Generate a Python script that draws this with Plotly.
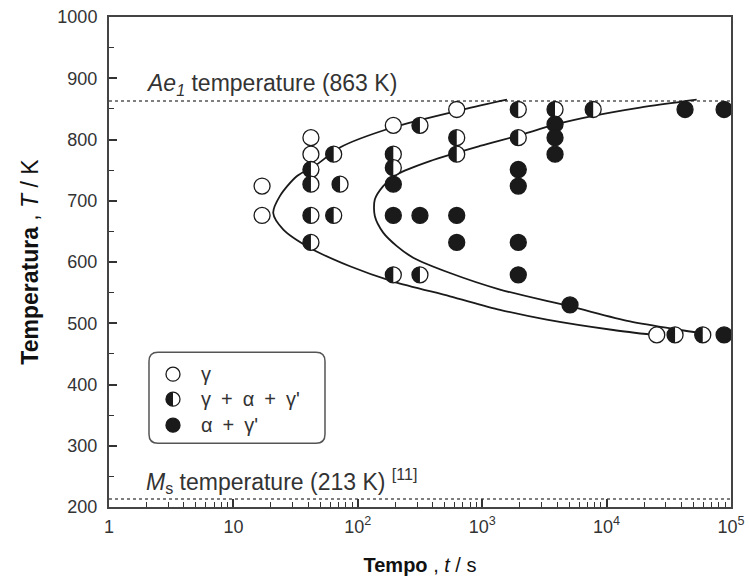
import plotly.graph_objects as go

# Isothermal holding results: time (s) and temperature (K) per observed phase state
gamma_t = [17, 17, 42, 42, 193, 624, 25300]
gamma_T = [724, 676, 803, 776, 823, 849, 481]

mixed_t = [42, 42, 42, 42, 64, 72, 64, 193, 193, 193, 316, 316, 624, 624,
           1950, 1950, 3850, 7800, 35500, 59300]
mixed_T = [751, 727, 676, 632, 776, 727, 676, 776, 754, 579, 823, 579, 803, 776,
           849, 803, 849, 849, 481, 481]

alpha_t = [193, 193, 316, 624, 624, 1950, 1950, 1950, 1950, 3850, 3850, 3850,
           5080, 42700, 88000, 88000]
alpha_T = [727, 676, 676, 676, 632, 751, 724, 632, 579, 825, 803, 776,
           530, 849, 849, 481]

# Transformation start / finish C-curves
start_t = [1581, 705, 193, 71.9, 46.7, 32.3, 23.7, 20.9, 25.2, 41.3, 86.5, 193,
           551, 1390, 3304, 11324, 23714]
start_T = [865, 849, 820, 787, 759, 740, 708, 680, 653, 623, 593, 568,
           544, 522, 506, 489, 481]
finish_t = [52970, 18535, 7816, 3972, 1892, 959, 380, 206, 160, 137, 137, 160,
            206, 279, 551, 1390, 5082, 15417, 38905, 56364]
finish_T = [865, 852, 838.5, 825, 805.7, 789.4, 764.8, 743, 724, 702, 675, 648,
            626, 607, 582, 555, 527.5, 503, 489, 484]

# Reference temperatures
AE1 = 863
MS = 213

x_tickvals = [1, 10, 100, 1000, 10000, 100000]
x_ticktext = ["1", "10", "10<sup>2</sup>", "10<sup>3</sup>", "10<sup>4</sup>", "10<sup>5</sup>"]

SP = "\u2002"
legend_labels = ["\u03b3",
                 f"\u03b3{SP}+{SP}\u03b1{SP}+{SP}\u03b3'",
                 f"\u03b1{SP}+{SP}\u03b3'"]

INK = "#1a1a1a"
FONT = "Arial, Liberation Sans, sans-serif"
MSIZE = 16
K = 0.5523


def circle_path(r):
    k = K * r
    return (f"M 0,{r} C {-k},{r} {-r},{k} {-r},0 C {-r},{-k} {-k},{-r} 0,{-r} "
            f"C {k},{-r} {r},{-k} {r},0 C {r},{k} {k},{r} 0,{r} Z")


def left_half_path(r):
    k = K * r
    return f"M 0,{r} C {-k},{r} {-r},{k} {-r},0 C {-r},{-k} {-k},{-r} 0,{-r} Z"


def rounded_box_path(w, h, rad):
    return (f"M {rad},0 L {w - rad},0 Q {w},0 {w},{-rad} L {w},{-h + rad} "
            f"Q {w},{-h} {w - rad},{-h} L {rad},{-h} Q 0,{-h} 0,{-h + rad} "
            f"L 0,{-rad} Q 0,0 {rad},0 Z")


fig = go.Figure()

curve_line = dict(color=INK, width=1.8, shape="spline", smoothing=0.8)
fig.add_trace(go.Scatter(x=start_t, y=start_T, mode="lines", line=curve_line,
                         showlegend=False, hoverinfo="skip"))
fig.add_trace(go.Scatter(x=finish_t, y=finish_T, mode="lines", line=curve_line,
                         showlegend=False, hoverinfo="skip"))

marker_line = dict(color=INK, width=1.3)
fig.add_trace(go.Scatter(x=gamma_t, y=gamma_T, mode="markers", name=legend_labels[0],
                         marker=dict(size=MSIZE, color="white", line=marker_line),
                         showlegend=False, cliponaxis=False))
fig.add_trace(go.Scatter(x=mixed_t, y=mixed_T, mode="markers", name=legend_labels[1],
                         marker=dict(size=MSIZE, color="white", line=marker_line),
                         showlegend=False, cliponaxis=False))
fig.add_trace(go.Scatter(x=alpha_t, y=alpha_T, mode="markers", name=legend_labels[2],
                         marker=dict(size=MSIZE, color=INK, line=marker_line),
                         showlegend=False, cliponaxis=False))

shapes = []
# Black left halves of the mixed-phase symbols
r_pt = MSIZE / 2
for t, T in zip(mixed_t, mixed_T):
    shapes.append(dict(type="path", xref="x", yref="y", xsizemode="pixel",
                       ysizemode="pixel", xanchor=t, yanchor=T,
                       path=left_half_path(r_pt), fillcolor=INK,
                       line=dict(width=0), layer="above"))

# Ae1 and Ms dotted lines
for level in (AE1, MS):
    shapes.append(dict(type="line", xref="paper", yref="y", x0=0, x1=1,
                       y0=level, y1=level, line=dict(color="#555", width=1.5, dash="dot"),
                       layer="below"))

# Legend box with rounded corners
box_x, box_y = 0.0643, 0.316
shapes.append(dict(type="path", xref="paper", yref="paper", xsizemode="pixel",
                   ysizemode="pixel", xanchor=box_x, yanchor=box_y,
                   path=rounded_box_path(176, 91, 9), fillcolor="white",
                   line=dict(color="#555", width=1.5), layer="above"))

leg_r = 7
leg_dx = 24
leg_dy = [22, 47, 73]
leg_fill = ["white", "white", INK]
annotations = []
for i, dy in enumerate(leg_dy):
    ax_ = box_x + leg_dx / 622
    ay_ = box_y - dy / 490
    shapes.append(dict(type="path", xref="paper", yref="paper", xsizemode="pixel",
                       ysizemode="pixel", xanchor=ax_, yanchor=ay_,
                       path=circle_path(leg_r), fillcolor=leg_fill[i],
                       line=dict(color=INK, width=1.3), layer="above"))
    if i == 1:
        shapes.append(dict(type="path", xref="paper", yref="paper", xsizemode="pixel",
                           ysizemode="pixel", xanchor=ax_, yanchor=ay_,
                           path=left_half_path(leg_r), fillcolor=INK,
                           line=dict(width=0), layer="above"))
    annotations.append(dict(xref="paper", yref="paper", x=box_x + 50 / 622, y=ay_,
                            text=legend_labels[i], showarrow=False, xanchor="left",
                            yanchor="middle", font=dict(family=FONT, size=20, color="#333")))

annotations.append(dict(xref="paper", yref="y", x=0.056, y=AE1, yshift=0,
                        text="<i>Ae</i><sub><i>1</i></sub> temperature (863 K)",
                        showarrow=False, xanchor="left", yanchor="bottom",
                        font=dict(family=FONT, size=23, color="#333")))
annotations.append(dict(xref="paper", yref="y", x=0.056, y=MS, yshift=0,
                        text="<i>M</i><sub>s</sub> temperature (213 K) <sup>[11]</sup>",
                        showarrow=False, xanchor="left", yanchor="bottom",
                        font=dict(family=FONT, size=23, color="#333")))

minor_x = [m * 10 ** d for d in range(5) for m in range(2, 10)]

fig.update_layout(
    width=749, height=583,
    margin=dict(l=109, r=18, t=17, b=76),
    paper_bgcolor="white", plot_bgcolor="white",
    font=dict(family=FONT, size=18, color="#333"),
    shapes=shapes, annotations=annotations,
    showlegend=False,
)

fig.update_xaxes(
    type="log", range=[0, 5], automargin=False,
    tickmode="array", tickvals=x_tickvals, ticktext=x_ticktext,
    ticks="inside", ticklen=8, tickwidth=1.5, tickcolor="#333",
    minor=dict(tickmode="array", tickvals=minor_x, ticks="inside", ticklen=5,
               tickwidth=1, tickcolor="#333"),
    showline=True, linecolor="#444", linewidth=2, mirror=True,
    showgrid=False, zeroline=False,
    tickfont=dict(size=18, color="#333"),
    ticklabelstandoff=2,
    title=dict(text="<b>Tempo</b> , <i>t</i> / s", standoff=22,
               font=dict(size=20, color="#111")),
)
fig.update_yaxes(
    range=[200, 1000], dtick=100, tick0=200, automargin=False,
    ticks="inside", ticklen=8, tickwidth=1.5, tickcolor="#333",
    minor=dict(dtick=50, ticks="inside", ticklen=5, tickwidth=1, tickcolor="#333"),
    showline=True, linecolor="#444", linewidth=2, mirror=True,
    showgrid=False, zeroline=False,
    tickfont=dict(size=18, color="#333"),
    ticklabelstandoff=6,
    title=dict(text="<b>Temperatura</b> , <i>T</i> / K", standoff=12,
               font=dict(size=23, color="#111")),
)

fig.write_html("out.html")
